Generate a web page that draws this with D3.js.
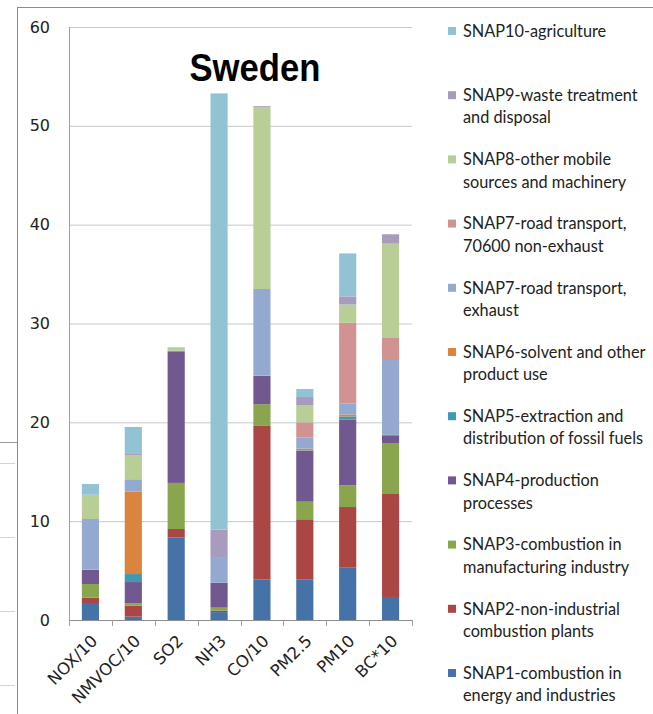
<!DOCTYPE html>
<html>
<head>
<meta charset="utf-8">
<script src="https://cdn.jsdelivr.net/npm/d3@7"></script>
<style>
    body{margin:0;background:#fff}
    svg{display:block}
</style>
</head>
<body>
<div class="chart"></div>
<script>

const width = 653
const height = 714

// pollutants on the x axis
const categories = ['NOX/10','NMVOC/10','SO2','NH3','CO/10','PM2.5','PM10','BC*10']

// emission shares per SNAP sector, bottom of the stack first
const snap1  = [1.72, 0.34, 8.34, 0.80, 4.09, 4.12, 5.29, 2.33]
const snap2  = [0.54, 1.11, 0.87, 0.16, 15.6, 6.07, 6.14, 10.42]
const snap3  = [1.38, 0.24, 4.66, 0.29, 2.15, 1.78, 2.20, 5.16]
const snap4  = [1.42, 2.15, 13.31, 2.52, 2.85, 5.15, 6.64, 0.78]
const snap5  = [0.02, 0.81, 0.03, 0.00, 0.02, 0.05, 0.33, 0.02]
const snap6  = [0.02, 8.33, 0.00, 0.00, 0.02, 0.17, 0.20, 0.02]
const snap7e = [5.12, 1.26, 0.05, 2.51, 8.76, 1.11, 1.11, 7.58]
const snap7n = [0.00, 0.00, 0.00, 0.00, 0.00, 1.55, 8.16, 2.29]
const snap8  = [2.38, 2.46, 0.30, 0.00, 18.4, 1.75, 1.86, 9.48]
const snap9  = [0.08, 0.10, 0.02, 2.86, 0.10, 0.81, 0.81, 0.95]
const snap10 = [1.08, 2.73, 0.02, 44.14, 0.00, 0.81, 4.35, 0.00]

const yTicks = [0,10,20,30,40,50,60]

const series = [
    {key:'snap1',  name:['SNAP1-combustion in','energy and industries'],        color:'#4572a7', values:snap1},
    {key:'snap2',  name:['SNAP2-non-industrial','combustion plants'],           color:'#aa4643', values:snap2},
    {key:'snap3',  name:['SNAP3-combustion in','manufacturing industry'],       color:'#89a54e', values:snap3},
    {key:'snap4',  name:['SNAP4-production','processes'],                       color:'#71588f', values:snap4},
    {key:'snap5',  name:['SNAP5-extraction and','distribution of fossil fuels'],color:'#4198af', values:snap5},
    {key:'snap6',  name:['SNAP6-solvent and other','product use'],              color:'#db843d', values:snap6},
    {key:'snap7e', name:['SNAP7-road transport,','exhaust'],                    color:'#93a9cf', values:snap7e},
    {key:'snap7n', name:['SNAP7-road transport,','70600 non-exhaust'],          color:'#d19392', values:snap7n},
    {key:'snap8',  name:['SNAP8-other mobile','sources and machinery'],         color:'#b9cd96', values:snap8},
    {key:'snap9',  name:['SNAP9-waste treatment','and disposal'],               color:'#a99bbd', values:snap9},
    {key:'snap10', name:['SNAP10-agriculture'],                                 color:'#92c3d4', values:snap10}
]

const table = categories.map((c,i)=>{
    let row = {cat:c}
    series.forEach(s=>row[s.key]=s.values[i])
    return row
})

const stack = d3.stack().keys(series.map(s=>s.key))(table)

const svg = d3.select('.chart')
    .append('svg')
        .attr('width', width)
        .attr('height', height)

// bits of the chart sitting behind this one
const behind = svg.append('g')
behind.append('line')
    .attr('x1',0).attr('x2',17).attr('y1',442.5).attr('y2',442.5)
    .attr('stroke','#999')
behind.selectAll('.bg')
    .data([463,537,611,685])
    .join('line')
        .attr('x1',0).attr('x2',15)
        .attr('y1',d=>d+0.5).attr('y2',d=>d+0.5)
        .attr('stroke','#d4d4d4')

// chart frame
svg.append('rect')
    .attr('x',17.5).attr('y',7.5)
    .attr('width',width).attr('height',height)
    .attr('fill','#fff')
    .attr('stroke','#8c8c8c')

const x = d3.scaleBand()
    .domain(categories)
    .range([69,412])
    .paddingInner(0.6)
    .paddingOuter(0.3)

const y = d3.scaleLinear()
    .domain([0,60])
    .range([620,27])

// gridlines + y labels
const yAxis = svg.append('g')
    .attr('transform','translate(69,0)')
    .call(d3.axisLeft(y).tickValues(yTicks).tickSize(7).tickPadding(12).tickFormat(d3.format('d')))
yAxis.select('.domain').remove()
yAxis.selectAll('.tick line')
    .attr('x2',343)
    .attr('stroke',d=>d==0?'#8c8c8c':'#c8c8c8')
yAxis.selectAll('.tick text')
    .attr('font-family','DejaVu Sans')
    .attr('font-size','16px')
    .attr('fill','#222')

svg.append('line')
    .attr('x1',69.5).attr('x2',69.5)
    .attr('y1',y(60)).attr('y2',y(0))
    .attr('stroke','#a0a0a0')

// category ticks on the baseline
const step = x.step()
svg.selectAll('.xtick')
    .data(d3.range(categories.length+1))
    .join('line')
        .attr('x1',i=>Math.round(x(categories[0])-x.paddingOuter()*step+i*step)+0.5)
        .attr('x2',i=>Math.round(x(categories[0])-x.paddingOuter()*step+i*step)+0.5)
        .attr('y1',y(0)).attr('y2',y(0)+6)
        .attr('stroke','#a0a0a0')

// stacked bars
svg.append('g')
    .selectAll('g')
    .data(stack)
    .join('g')
        .attr('fill',(d,i)=>series[i].color)
    .selectAll('rect')
    .data(d=>d)
    .join('rect')
        .attr('x',d=>x(d.data.cat))
        .attr('width',x.bandwidth())
        .attr('y',d=>y(d[1]))
        .attr('height',d=>Math.max(0,y(d[0])-y(d[1])))

// rotated category labels
svg.append('g')
    .selectAll('text')
    .data(categories)
    .join('text')
        .attr('transform',d=>`translate(${x(d)+x.bandwidth()/2+8},${y(0)+22}) rotate(-45)`)
        .attr('text-anchor','end')
        .attr('font-family','DejaVu Sans')
        .attr('font-size','16.5px')
        .attr('fill','#222')
        .text(d=>d)

svg.append('text')
    .attr('x',255).attr('y',81)
    .attr('text-anchor','middle')
    .attr('font-family','Liberation Sans, Arial, sans-serif')
    .attr('font-weight','bold')
    .attr('font-size','39px')
    .attr('textLength',131)
    .attr('lengthAdjust','spacingAndGlyphs')
    .text('Sweden')

// legend, top entry is SNAP10
const legend = svg.append('g')
    .selectAll('g')
    .data(series.slice().reverse())
    .join('g')
        .attr('transform',(d,i)=>`translate(448,${31+i*64.2})`)

legend.append('rect')
    .attr('x',0).attr('y',-4)
    .attr('width',8).attr('height',8)
    .attr('fill',d=>d.color)

legend.append('text')
    .attr('font-family','Lato, sans-serif')
    .attr('font-size','16.3px')
    .attr('fill','#222')
    .selectAll('tspan')
    .data(d=>d.name)
    .join('tspan')
        .attr('x',15)
        .attr('y',(d,i)=>i*22.5)
        .attr('dy','0.35em')
        .text(d=>d)

</script>
</body>
</html>
